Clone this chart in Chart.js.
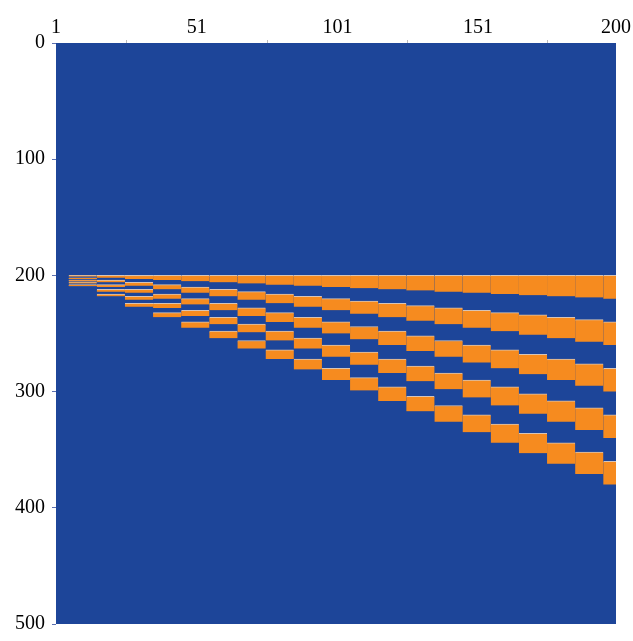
<!DOCTYPE html>
<html>
<head>
<meta charset="utf-8">
<script src="https://cdn.jsdelivr.net/npm/chart.js@4.4.1/dist/chart.umd.min.js"></script>
<style>
  html, body { margin: 0; padding: 0; background: #fff; }
  #wrap { width: 633px; height: 641px; }
</style>
</head>
<body>
<div id="wrap"><canvas id="chart"></canvas></div>
<script>
// tick labels
const xTicks = [1, 51, 101, 151, 200];
const yTicks = [0, 100, 200, 300, 400, 500];

// first column of each 10-column step (last one is cut at 200)
const blockStart = [6, 16, 26, 36, 46, 56, 66, 76, 86, 96, 106, 116, 126, 136, 146, 156, 166, 176, 186, 196];
const blockWidth = 10;
// height (rows) of each stripe in a step
const stripeHeight = [1, 2, 3, 4, 5, 6, 7, 8, 9, 10, 11, 12, 13, 14, 15, 16, 17, 18, 19, 20];
const firstRow = 200;
const orangeBands = 5;

const blue = '#1d4599';
const orange = '#f68b1f';

// one dataset per orange band, one floating bar per step
const datasets = [];
for (let b = 0; b < orangeBands; b++) {
    datasets.push({
        data: blockStart.map((s, k) => {
            const h = stripeHeight[k];
            return {x: s - 0.5 + blockWidth / 2, y: [firstRow + 2 * b * h, firstRow + (2 * b + 1) * h]};
        }),
        backgroundColor: orange,
        borderColor: '#d7c4b6',
        borderWidth: {top: 1, right: 0, bottom: 0, left: 0},
        borderSkipped: false,
        barPercentage: 1,
        categoryPercentage: 1,
        grouped: false,
        clip: 0
    });
}

const plotBg = {
    id: 'plotBg',
    beforeDatasetsDraw(chart) {
        const a = chart.chartArea, ctx = chart.ctx;
        ctx.save();
        ctx.fillStyle = blue;
        ctx.fillRect(a.left, a.top, a.right - a.left, a.bottom - a.top);
        ctx.restore();
    }
};

const tickFont = {family: "'Liberation Serif', 'Times New Roman', serif", size: 20, lineHeight: 1};

new Chart(document.getElementById('chart'), {
    type: 'bar',
    data: {datasets: datasets},
    plugins: [plotBg],
    options: {
        responsive: true,
        maintainAspectRatio: false,
        animation: false,
        layout: {padding: {left: 0, right: 16, top: 0, bottom: 10}},
        plugins: {legend: {display: false}, tooltip: {enabled: false}},
        scales: {
            x: {
                type: 'linear',
                position: 'top',
                min: 1,
                max: 200,
                offset: false,
                afterBuildTicks: s => { s.ticks = xTicks.map(v => ({value: v})); },
                afterFit: s => { s.height = 43; },
                grid: {drawOnChartArea: false, tickLength: 3, color: '#bbbbbb'},
                border: {display: false},
                ticks: {font: tickFont, color: '#000', padding: 2, maxRotation: 0, autoSkip: false}
            },
            y: {
                type: 'linear',
                reverse: true,
                min: 0,
                max: 500,
                afterBuildTicks: s => { s.ticks = yTicks.map(v => ({value: v})); },
                afterFit: s => { s.width = 56; },
                grid: {drawOnChartArea: false, tickLength: 4, color: '#5a6fb0'},
                border: {display: false},
                ticks: {font: tickFont, color: '#000', padding: 7}
            }
        }
    }
});
</script>
</body>
</html>
